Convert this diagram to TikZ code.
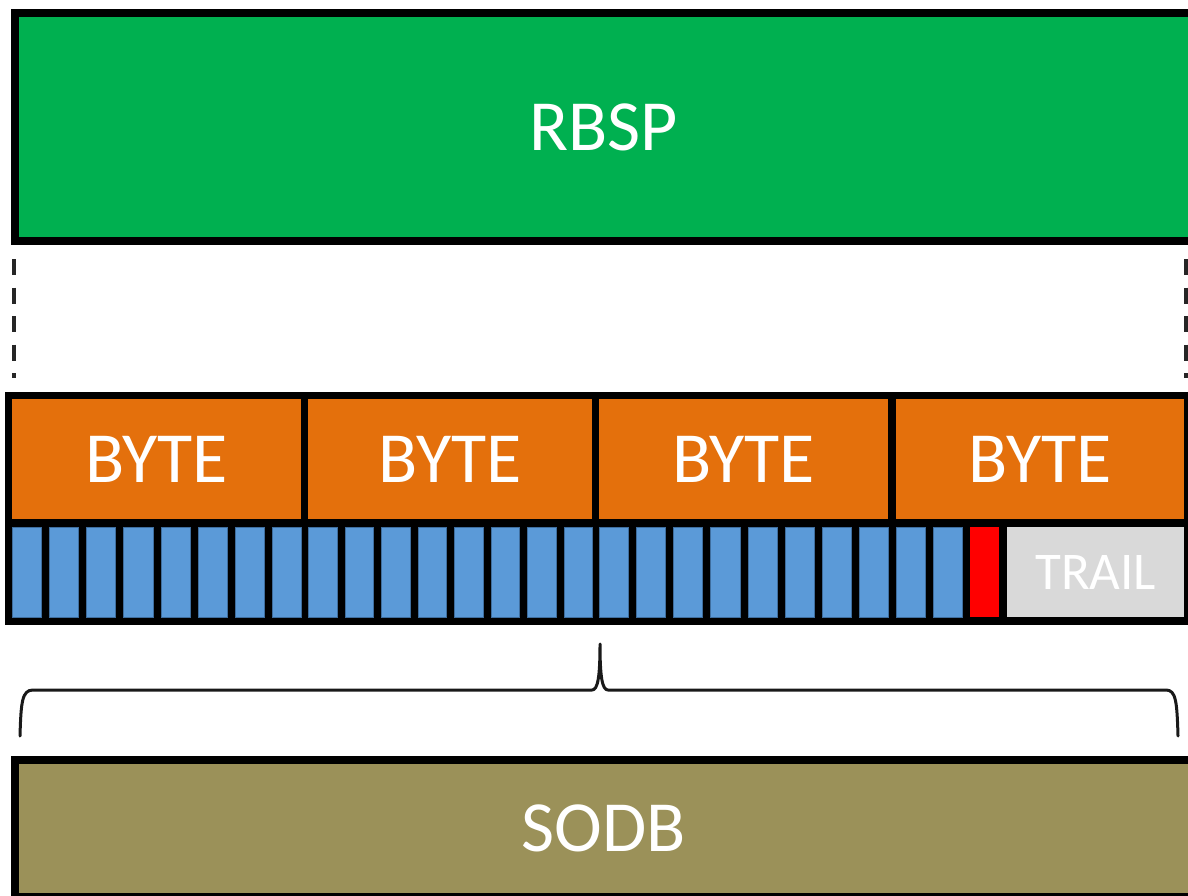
\documentclass[tikz,border=0pt]{standalone}
\usepackage{fontspec}
\setmainfont{Carlito}
\definecolor{rbspgreen}{HTML}{00B050}
\definecolor{byteorange}{HTML}{E4700C}
\definecolor{bitblue}{HTML}{5B9AD8}
\definecolor{bitedge}{HTML}{3F6E9E}
\definecolor{sodbolive}{HTML}{9B9159}
\definecolor{trailgray}{HTML}{D9D9D9}
\definecolor{stopred}{HTML}{FF0000}
\tikzset{
  bigbox/.style={draw=black, line width=8pt, inner sep=0pt, text=white,
    font=\fontsize{72}{78}\selectfont, anchor=north west},
  cellbox/.style={inner sep=0pt, anchor=north west},
  bytecell/.style={cellbox, fill=byteorange, text=white,
    font=\fontsize{72}{78}\selectfont},
  bitcell/.style={cellbox, fill=bitblue, draw=bitedge, line width=0.8pt},
  stopcell/.style={cellbox, fill=stopred},
  trailcell/.style={cellbox, fill=trailgray, text=white,
    font=\fontsize{53}{58}\selectfont},
  dashline/.style={line width=4pt, dash pattern=on 16pt off 12.5pt, black!85},
  braceline/.style={line width=3pt, line join=round, line cap=round, black!90},
}
\begin{document}
\begin{tikzpicture}[x=1pt, y=-1pt]
\useasboundingbox (0,0) rectangle (1188,896);
% RBSP
\node[bigbox, fill=rbspgreen, minimum width=1177pt, minimum height=228pt] (rbsp) at (11,9) {RBSP};
% dashed guides
\coordinate (dla) at (14,259);
\coordinate (dlb) at (14,378);
\coordinate (dra) at (1186,259);
\coordinate (drb) at (1186,378);
\draw[dashline] (dla) -- (dlb);
\draw[dashline] (dra) -- (drb);
% byte/bit block background
\fill[black] (5,392) rectangle (1194,625);
% bytes
\foreach \i/\xa/\xb in {0/12/301, 1/308/592, 2/599/888, 3/896/1184} {
  \pgfmathsetmacro{\bw}{\xb-\xa}
  \node[bytecell, minimum width=\bw pt, minimum height=120pt] (byte\i) at (\xa,399) {BYTE};
}
% bits of bytes 0-2 (all blue)
\foreach \i/\xa/\xb in {0/12/301, 1/308/592, 2/599/888} {
  \pgfmathsetmacro{\cw}{(\xb-\xa-56)/8}
  \foreach \j in {0,...,7} {
    \pgfmathsetmacro{\cx}{\xa+\j*(\cw+8)}
    \node[bitcell, minimum width=\cw pt, minimum height=90pt] (bit\i\j) at (\cx,527) {};
  }
}
% byte 3: two data bits, stop bit, trailing bits
\node[bitcell, minimum width=29pt, minimum height=90pt] (bit30) at (896,527) {};
\node[bitcell, minimum width=29pt, minimum height=90pt] (bit31) at (933,527) {};
\node[stopcell, minimum width=29pt, minimum height=90pt] (stop) at (970,527) {};
\node[trailcell, minimum width=177pt, minimum height=90pt] (trail) at (1007,527) {TRAIL};
% brace
\coordinate (bl) at (20,736);
\coordinate (blc) at (33,690);
\coordinate (btip) at (600,644);
\coordinate (brc) at (1166,690);
\coordinate (br) at (1178,736);
\draw[braceline] (bl) .. controls (21,702) and (22,690) .. (blc)
  -- (592,690) .. controls (598,690) and (600,676) .. (btip)
  .. controls (600,676) and (602,690) .. (608,690)
  -- (brc) .. controls (1176,690) and (1177,702) .. (br);
% SODB
\node[bigbox, fill=sodbolive, minimum width=1177pt, minimum height=137pt] (sodb) at (11,755.5) {SODB};
\end{tikzpicture}
\end{document}
